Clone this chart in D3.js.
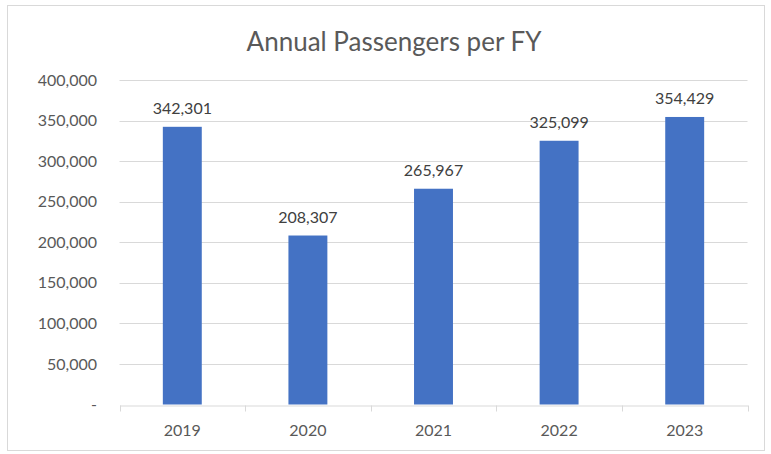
<!DOCTYPE html>
<html>
<head>
<meta charset="utf-8">
<script src="https://cdn.jsdelivr.net/npm/d3@7"></script>
<style>
  body { margin: 0; background: #fff; }
  text { font-family: Lato, "Open Sans", sans-serif; }
</style>
</head>
<body>
<div id="plot"></div>
<script>
// chart data
var years = ["2019", "2020", "2021", "2022", "2023"];
var passengers = [342301, 208307, 265967, 325099, 354429];
var yTicks = [0, 50000, 100000, 150000, 200000, 250000, 300000, 350000, 400000];

var width = 771, height = 454;
var margin = {top: 80, right: 23.5, bottom: 49.5, left: 119.5};

var svg = d3.select("#plot").append("svg")
  .attr("width", width).attr("height", height);

// outer chart border
svg.append("rect")
  .attr("x", 7.5).attr("y", 5.5)
  .attr("width", 757).attr("height", 445)
  .attr("fill", "#fff")
  .attr("stroke", "#d9d9d9")
  .attr("stroke-width", 1);

var x = d3.scaleBand().domain(years)
  .range([margin.left, width - margin.right]);

var y = d3.scaleLinear().domain([0, 400000])
  .range([height - margin.bottom, margin.top]);

var fmt = d3.format(",");

// gridlines
svg.append("g").selectAll("line").data(yTicks.slice(1)).enter().append("line")
  .attr("x1", margin.left).attr("x2", width - margin.right)
  .attr("y1", function(d){ return Math.round(y(d)) + 0.5; })
  .attr("y2", function(d){ return Math.round(y(d)) + 0.5; })
  .attr("stroke", "#d9d9d9")
  .attr("stroke-width", 1);

// y labels
svg.append("g").selectAll("text").data(yTicks).enter().append("text")
  .attr("x", 97)
  .attr("y", function(d){ return y(d); })
  .attr("dy", "0.35em")
  .attr("text-anchor", "end")
  .attr("font-size", "16px")
  .attr("fill", "#595959")
  .text(function(d){ return d === 0 ? "-" : fmt(d); });

// bars
var barW = x.bandwidth() * 0.31;
svg.append("g").selectAll("rect").data(years).enter().append("rect")
  .attr("x", function(d){ return x(d) + (x.bandwidth() - barW) / 2; })
  .attr("y", function(d, i){ return y(passengers[i]); })
  .attr("width", barW)
  .attr("height", function(d, i){ return y(0) - y(passengers[i]); })
  .attr("fill", "#4472c4");

// value labels
svg.append("g").selectAll("text").data(years).enter().append("text")
  .attr("x", function(d){ return x(d) + x.bandwidth() / 2; })
  .attr("y", function(d, i){ return y(passengers[i]) - 13; })
  .attr("text-anchor", "middle")
  .attr("font-size", "16px")
  .attr("fill", "#404040")
  .text(function(d, i){ return fmt(passengers[i]); });

// x axis
var xaxis = svg.append("g")
  .attr("transform", "translate(0," + (Math.round(y(0)) + 0.5) + ")")
  .call(d3.axisBottom(x).tickSize(0).tickPadding(19));
xaxis.select(".domain").attr("stroke", "#d9d9d9");
xaxis.selectAll("text")
  .attr("font-size", "16px")
  .attr("fill", "#595959")
  .attr("font-family", "Lato, sans-serif");

// category separators
var seps = years.map(function(d){ return x(d); }).concat([width - margin.right]);
xaxis.selectAll(".sep").data(seps).enter().append("line")
  .attr("class", "sep")
  .attr("x1", function(d){ return Math.round(d) + 0.5; })
  .attr("x2", function(d){ return Math.round(d) + 0.5; })
  .attr("y1", 0).attr("y2", 6)
  .attr("stroke", "#d9d9d9");

// title
svg.append("text")
  .attr("x", 394).attr("y", 51)
  .attr("text-anchor", "middle")
  .attr("font-size", "26px")
  .attr("fill", "#595959")
  .text("Annual Passengers per FY");
</script>
</body>
</html>
